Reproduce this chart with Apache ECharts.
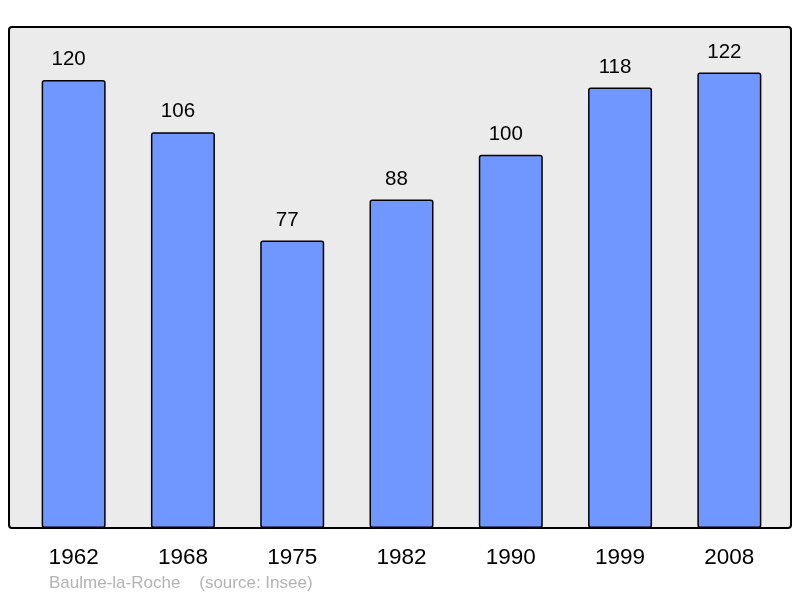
<!DOCTYPE html>
<html>
<head>
<meta charset="utf-8">
<script src="https://cdn.jsdelivr.net/npm/echarts@6/dist/echarts.min.js"></script>
<style>html,body{margin:0;padding:0;background:#fff}#c{width:800px;height:598px}</style>
</head>
<body>
<div id="c"></div>
<script>
var categories = ['1962', '1968', '1975', '1982', '1990', '1999', '2008'];
var population = [120, 106, 77, 88, 100, 118, 122];
var footerText = 'Baulme-la-Roche    (source: Insee)';

var chart = echarts.init(document.getElementById('c'), null, {renderer: 'canvas'});
chart.setOption({
  animation: false,
  backgroundColor: '#ffffff',
  graphic: [
    {type: 'rect', z: -10, shape: {x: 9, y: 27, width: 782, height: 501, r: 3},
     style: {fill: '#ebebeb', stroke: '#000', lineWidth: 2}},
    {type: 'text', left: 49, top: 575,
     style: {text: footerText, fill: '#b3b3b3', font: '17px "Liberation Sans", Arial, sans-serif'}}
  ],
  grid: {left: 19, right: 16, top: 27, bottom: 70, containLabel: false},
  xAxis: {
    type: 'category', data: categories,
    axisLine: {show: false}, axisTick: {show: false},
    axisLabel: {color: '#000', fontSize: 22.5, fontFamily: '"Liberation Sans", Arial, sans-serif', margin: 18}
  },
  yAxis: {type: 'value', min: 0, max: 134.2, show: false, splitLine: {show: false}},
  series: [{
    type: 'bar', data: population, barWidth: 64,
    itemStyle: {color: '#7096ff', borderColor: '#000', borderWidth: 1.5, borderRadius: 2},
    label: {show: true, position: 'top', distance: 10, offset: [-5, 0], color: '#000', fontSize: 20.5,
            fontFamily: '"Liberation Sans", Arial, sans-serif'}
  }]
});
</script>
</body>
</html>
